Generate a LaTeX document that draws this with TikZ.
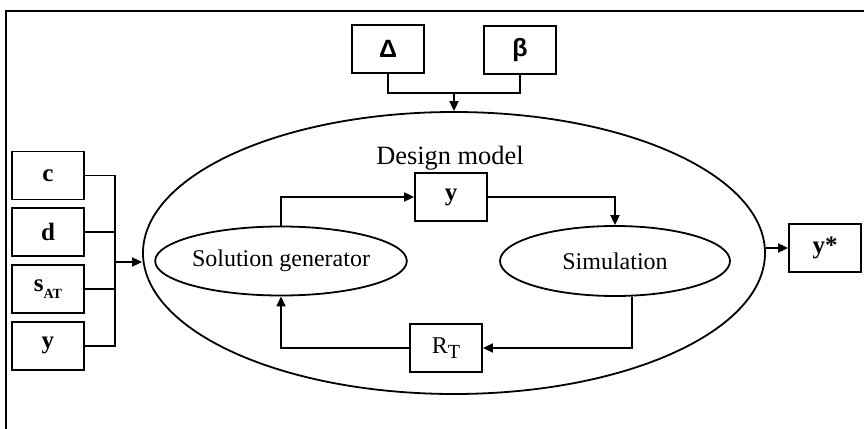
\documentclass[tikz,border=0pt]{standalone}
\usepackage{fontspec}
\setmainfont{Liberation Serif}
\newfontfamily\greekfont{Liberation Sans}
\usepackage{tikz}
\usetikzlibrary{shapes.geometric, arrows.meta, positioning}
\tikzset{
  >=Triangle,
  link/.style={line width=0.9pt},
  flowarrow/.style={-{Triangle[length=5pt, width=4.5pt]}, line width=0.9pt},
  inbox/.style={draw, line width=0.9pt, minimum width=36pt, minimum height=24pt, inner sep=0pt, font=\fontsize{12.5}{14}\selectfont\bfseries},
  oval/.style={ellipse, draw, line width=0.9pt, inner sep=0pt, font=\fontsize{12}{14}\selectfont}
}

\begin{document}
\begin{tikzpicture}[x=0.5pt, y=-0.5pt]
    \useasboundingbox (0,0) rectangle (864,429);
    % frame
    \draw[line width=1.1pt] (864,11) -- (6,11) -- (6,429);

    % design model with its two parts
    \node[oval, minimum width=311pt, minimum height=141pt] (model) at (454,253) {};
    \node[font=\fontsize{13.2}{15}\selectfont] (title) at (450,158) {Design model};
    \node[oval, minimum width=118.5pt, minimum height=34.5pt] (solgen) at (281,261) {Solution generator};
    \node[oval, minimum width=115pt, minimum height=35pt] (sim) at (615,261) {Simulation};
    \node[inbox] (ymid) at (451,197) {y};
    \node[inbox, font=\fontsize{12}{14}\selectfont] (rt) at (446,348) {R\raisebox{-0.45ex}{\fontsize{10}{12}\selectfont T}};

    % parameters on top
    \node[inbox, font=\fontsize{12.5}{14}\selectfont\greekfont\bfseries] (delta) at (388,49) {Δ};
    \node[inbox, font=\fontsize{12.5}{14}\selectfont\greekfont\bfseries] (beta) at (520,50) {β};
    \coordinate (topjoin) at (454,93);

    % inputs on the left
    \node[inbox] (c) at (48,175.5) {c};
    \node[inbox, below=3.5pt of c] (d) {d};
    \node[inbox, below=3.5pt of d] (sat) {s\raisebox{-0.6ex}{\fontsize{7}{8}\selectfont\bfseries AT}};
    \node[inbox, below=3.5pt of sat] (yin) {y};
    \coordinate (bus) at (115,262);

    % output
    \node[inbox] (ystar) at (825,248) {y*};

    \draw[link] (delta.south) |- (topjoin) -| (beta.south);
    \draw[flowarrow] (topjoin) -- (model.north);
    \draw[link] (c.east) -| (bus);
    \draw[link] (d.east) -| (bus);
    \draw[link] (sat.east) -| (bus);
    \draw[link] (yin.east) -| (bus);
    \draw[flowarrow] (bus) -- (bus -| model.west);
    \draw[flowarrow] (ystar.west -| model.east) -- (ystar.west);

    \draw[flowarrow] (solgen.north) |- (ymid.west);
    \draw[flowarrow] (ymid.east) -| (sim.north);
    \draw[flowarrow] ([xshift=8.5pt]sim.south) |- (rt.east);
    \draw[flowarrow] (rt.west) -| (solgen.south);
\end{tikzpicture}
\end{document}
